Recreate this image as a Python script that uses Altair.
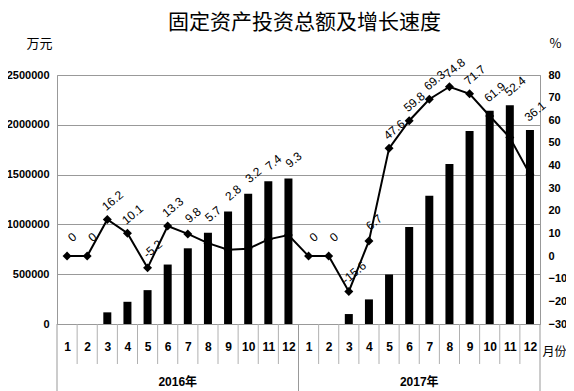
import json
import numpy as np
import pandas as pd
import altair as alt

# ---------------- data ----------------
title_text = "固定资产投资总额及增长速度"
years = ["2016年", "2017年"]
months = ["1", "2", "3", "4", "5", "6", "7", "8", "9", "10", "11", "12"]
invest_2016 = [0, 0, 117000, 223000, 340000, 597000, 760000, 917000, 1130000, 1307000, 1433000, 1460000]
invest_2017 = [0, 0, 100000, 247000, 497000, 973000, 1287000, 1607000, 1937000, 2140000, 2197000, 1947000]
growth_2016 = [0, 0, 16.2, 10.1, -5.2, 13.3, 9.8, 5.7, 2.8, 3.2, 7.4, 9.3]
growth_2017 = [0, 0, -15.6, 6.7, 47.6, 59.8, 69.3, 74.8, 71.7, 61.9, 52.4, 36.1]
left_ticks = [0, 500000, 1000000, 1500000, 2000000, 2500000]
right_ticks = [-30, -20, -10, 0, 10, 20, 30, 40, 50, 60, 70, 80]

month_labels = months + months
invest = invest_2016 + invest_2017
growth = growth_2016 + growth_2017
n = len(invest)
INV_MIN, INV_MAX = left_ticks[0], left_ticks[-1]
G_MIN, G_MAX = right_ticks[0], right_ticks[-1]

df = pd.DataFrame({"x": [i + 0.5 for i in range(n)], "invest": invest, "growth": growth})
df["label"] = [f"{g:g}" for g in growth]
# label sits above the higher of the point and the bar (bar converted to the % scale)
df["lab_y"] = np.maximum(df["growth"], df["invest"] / INV_MAX * (G_MAX - G_MIN) + G_MIN)

sep = pd.DataFrame({"x": list(range(n + 1))})
sep["major"] = (sep["x"] % len(months)) == 0
year_df = pd.DataFrame({"x": [len(months) / 2 + k * len(months) for k in range(len(years))], "year": years})
title_df = pd.DataFrame({"t": [title_text]})

W, H = 483, 249
PAD = {"left": 49, "top": 67, "right": 26, "bottom": 67}
NUM_FONT = "Liberation Sans, Noto Sans CJK SC"
CJK = "Noto Sans CJK SC"

xenc = alt.X(
    "x:Q",
    scale=alt.Scale(domain=[0, n], nice=False, zero=False, padding=0),
    axis=alt.Axis(
        values=[i + 0.5 for i in range(n)],
        labelExpr=f"{json.dumps(month_labels)}[floor(datum.value)]",
        ticks=False, domain=False, grid=False,
        labelPadding=17, labelFont=NUM_FONT, labelFontWeight="bold", labelFontSize=12,
        labelColor="black", labelFlush=False, labelOverlap=False,
        title="月份", titleX=497, titleY=27, titleAlign="center", titleBaseline="middle",
        titleFont=CJK, titleFontSize=12, titleFontWeight="normal", titleColor="black",
    ),
)

g_scale = alt.Scale(domain=[G_MIN, G_MAX], nice=False, zero=False)

line = alt.Chart(df).mark_line(color="black", strokeWidth=2).encode(
    x=xenc,
    y=alt.Y(
        "growth:Q", scale=g_scale,
        axis=alt.Axis(
            orient="right", values=right_ticks, grid=False, ticks=False, domain=False,
            labelPadding=8, labelFont=NUM_FONT, labelFontWeight="bold", labelFontSize=11,
            labelColor="black",
            title="%", titleAngle=0, titleX=15, titleY=-32, titleAlign="center",
            titleBaseline="middle", titleFont=CJK, titleFontSize=13, titleFontWeight="normal",
            titleColor="black",
        ),
    ),
)

points = alt.Chart(df).mark_point(shape="diamond", filled=True, color="black", size=80, opacity=1).encode(
    x=xenc,
    y=alt.Y("growth:Q", scale=g_scale, axis=None),
)

bars = alt.Chart(df).mark_bar(color="black", size=8).encode(
    x=xenc,
    y=alt.Y(
        "invest:Q", scale=alt.Scale(domain=[INV_MIN, INV_MAX], nice=False),
        axis=alt.Axis(
            orient="left", values=left_ticks, format="d", grid=True, gridColor="#999999",
            ticks=False, domain=False, labelPadding=8, labelFont=NUM_FONT,
            labelFontWeight="bold", labelFontSize=11, labelColor="black",
            title="万元", titleAngle=0, titleX=-18, titleY=-32, titleAlign="center",
            titleBaseline="middle", titleFont=CJK, titleFontSize=13, titleFontWeight="normal",
            titleColor="black",
        ),
    ),
)

# dx/dy are applied in the rotated text frame (about +5, -19 px on screen)
labels = alt.Chart(df).mark_text(
    align="center", baseline="middle", dx=16, dy=-11,
    font="Liberation Sans", fontSize=12, color="black",
).encode(
    x=xenc,
    y=alt.Y("lab_y:Q", scale=g_scale, axis=None),
    text="label:N",
    angle=alt.value(320),
)

minor_sep = alt.Chart(sep).transform_filter("!datum.major").mark_rule(color="#b0b0b0").encode(
    x=xenc, y=alt.value(H), y2=alt.value(H + 40)
)
major_sep = alt.Chart(sep).transform_filter("datum.major").mark_rule(color="#999999").encode(
    x=xenc, y=alt.value(H), y2=alt.value(H + PAD["bottom"])
)

year_text = alt.Chart(year_df).mark_text(
    font=NUM_FONT, fontWeight="bold", fontSize=12, color="black", baseline="middle"
).encode(x=xenc, y=alt.value(H + 58), text="year:N")

title_mark = alt.Chart(title_df).mark_text(
    font=CJK, fontSize=21, color="black", baseline="middle", align="center"
).encode(x=alt.value(W / 2 + 6), y=alt.value(-52), text="t:N")

chart = (
    alt.layer(line, points, bars, labels, minor_sep, major_sep, year_text, title_mark)
    .resolve_scale(y="independent")
    .properties(
        width=W, height=H,
        autosize=alt.AutoSizeParams(type="none"),
        padding=PAD,
        background="white",
    )
    .configure_view(stroke="#999999")
)

chart.save("out.html", embed_options={"renderer": "svg", "actions": False})
